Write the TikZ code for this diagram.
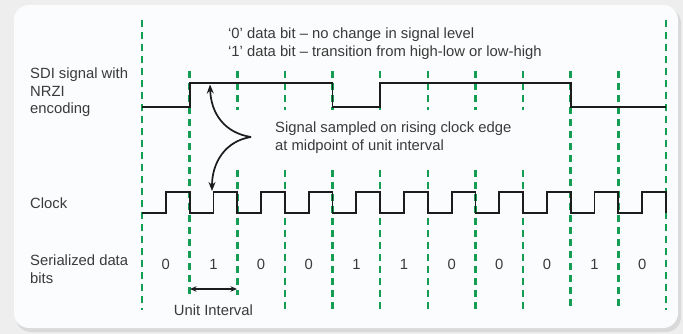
\documentclass[tikz,border=0pt]{standalone}
\usepackage{fontspec}
\setmainfont{Liberation Sans}
\usetikzlibrary{arrows.meta}
\definecolor{dgreen}{RGB}{20,158,84}
\definecolor{txt}{RGB}{58,58,58}
\definecolor{sig}{RGB}{28,28,28}
\definecolor{bgout}{RGB}{238,238,238}
\definecolor{panel}{RGB}{251,252,253}
\begin{document}
\begin{tikzpicture}[x=1pt,y=-1pt,
  gridline/.style={dgreen, line width=2.5pt, dash pattern=on 7pt off 5pt},
  wave/.style={sig, line width=1.9pt, line join=miter},
  lbl/.style={font=\fontsize{14.8}{17.3}\selectfont, text=txt, inner sep=0pt, align=left},
  curvearrow/.style={sig, line width=1.7pt, -{Stealth[length=9pt,width=7pt]}},
  uiarrow/.style={sig, line width=1.4pt, {Stealth[length=6.5pt,width=5.5pt]}-{Stealth[length=6.5pt,width=5.5pt]}}]
\useasboundingbox (0,0) rectangle (683,334);
% background
\fill[bgout] (0,0) rectangle (683,334);
\fill[gray!30, rounded corners=15pt] (16,8) rectangle (681,332);
\fill[panel, rounded corners=15pt] (14,5) rectangle (678,328);
% grid coordinates
\foreach \i in {0,...,11} {
  \coordinate (g\i) at ({142+47.636*\i},0);
}
% dashed lines
\foreach \i in {0,11} { \draw[gridline] (g\i |- 0,20) -- (g\i |- 0,310); }
\draw[gridline] (g1 |- 0,71) -- (g1 |- 0,295);
\draw[gridline] (g2 |- 0,71) -- (g2 |- 0,110);
\draw[gridline] (g2 |- 0,170) -- (g2 |- 0,295);
\foreach \i in {3,...,8} {
  \draw[gridline] (g\i |- 0,71) -- (g\i |- 0,110);
  \draw[gridline] (g\i |- 0,170) -- (g\i |- 0,310);
}
\foreach \i in {9,10} { \draw[gridline] (g\i |- 0,71) -- (g\i |- 0,310); }
% SDI NRZI signal
\draw[wave] (g0 |- 0,107) -- (g1 |- 0,107) -- (g1 |- 0,83) -- (g4 |- 0,83) -- (g4 |- 0,107)
  -- (g5 |- 0,107) -- (g5 |- 0,83) -- (g9 |- 0,83) -- (g9 |- 0,107) -- (g11 |- 0,107);
% clock
\draw[wave] (g0 |- 0,213) \foreach \i in {0,...,10} { -- ++(23.818,0) -- ++(0,-21) -- ++(23.818,0) -- ++(0,21) };
% labels
\node[lbl, anchor=north west] (sdi) at (30,68) {SDI signal with\\NRZI\\encoding};
\node[lbl, anchor=base west] (clk) at (30,208) {Clock};
\node[lbl, anchor=north west] (ser) at (30,255) {Serialized data\\bits};
\node[lbl, anchor=north west] (note) at (228,28) {‘0’ data bit – no change in signal level\\‘1’ data bit – transition from high-low or low-high};
\node[lbl, anchor=north west] (samp) at (275,122) {Signal sampled on rising clock edge\\at midpoint of unit interval};
\foreach \b [count=\i from 0] in {0,1,0,0,1,1,0,0,0,1,0} {
  \node[lbl, anchor=base] (bit\i) at ({165.82+47.636*\i},269) {\b};
}
\node[lbl, anchor=base] (uitext) at (213.45,315) {Unit Interval};
% curved arrows
\coordinate (tip) at (251,137);
\coordinate (sdihit) at (210,84.5);
\coordinate (clkhit) at (212,191);
\draw[curvearrow] (tip) .. controls (225,133) and (211,114) .. (sdihit);
\draw[curvearrow] (tip) .. controls (225,141) and (212,163) .. (clkhit);
% unit interval arrow
\coordinate (ui1) at (190,289);
\coordinate (ui2) at (237,289);
\draw[uiarrow] (ui1) -- (ui2);
\end{tikzpicture}
\end{document}
